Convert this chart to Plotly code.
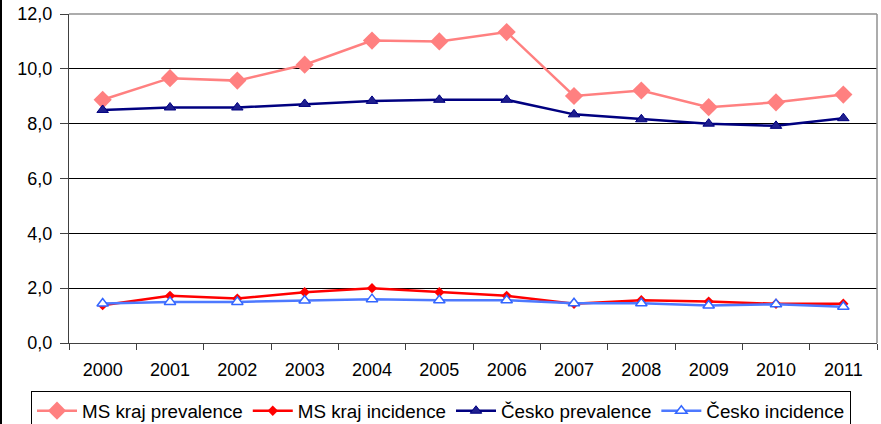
import plotly.graph_objects as go

years = ["2000", "2001", "2002", "2003", "2004", "2005", "2006", "2007", "2008", "2009", "2010", "2011"]
ms_prevalence = [8.87, 9.66, 9.57, 10.15, 11.03, 11.0, 11.34, 9.01, 9.21, 8.6, 8.78, 9.06]
ms_incidence = [1.38, 1.72, 1.62, 1.85, 2.0, 1.85, 1.72, 1.43, 1.56, 1.51, 1.43, 1.43]
cz_prevalence = [8.5, 8.59, 8.59, 8.72, 8.83, 8.87, 8.87, 8.34, 8.16, 8.0, 7.92, 8.2]
cz_incidence = [1.44, 1.5, 1.5, 1.55, 1.6, 1.56, 1.56, 1.45, 1.45, 1.37, 1.41, 1.32]

font = "Liberation Sans, Arial, sans-serif"

fig = go.Figure()
fig.add_trace(go.Scatter(x=years, y=ms_prevalence, name="MS kraj prevalence", mode="lines+markers",
                         line=dict(color="#FF8080", width=2.5),
                         marker=dict(symbol="diamond", size=14, color="#FF8080")))
fig.add_trace(go.Scatter(x=years, y=ms_incidence, name="MS kraj incidence", mode="lines+markers",
                         line=dict(color="#FF0000", width=2.5),
                         marker=dict(symbol="diamond", size=8, color="#FF0000")))
fig.add_trace(go.Scatter(x=years, y=cz_prevalence, name="Česko prevalence", mode="lines+markers",
                         line=dict(color="#000080", width=2.5),
                         marker=dict(symbol="triangle-up", size=10, color="#1F1F8F",
                                     line=dict(color="#000080", width=1))))
fig.add_trace(go.Scatter(x=years, y=cz_incidence, name="Česko incidence", mode="lines+markers",
                         line=dict(color="#4D79FF", width=2.5),
                         marker=dict(symbol="triangle-up", size=10, color="white",
                                     line=dict(color="#3366FF", width=1.5))))

fig.update_layout(
    width=881, height=424,
    margin=dict(l=69, r=4, t=14, b=81, autoexpand=False),
    paper_bgcolor="white", plot_bgcolor="white",
    separators=", ",
    font=dict(family=font, size=18, color="black"),
    showlegend=True,
    legend=dict(orientation="h", x=-38 / 808, xanchor="left", y=-48 / 329, yanchor="top",
                bordercolor="black", borderwidth=1, font=dict(size=18.8),
                tracegroupgap=0, itemwidth=40),
)
fig.update_xaxes(type="category", showgrid=False, showline=True, linecolor="#404040", linewidth=1,
                 ticks="outside", tickson="boundaries", ticklen=6, tickcolor="#404040",
                 ticklabelstandoff=10, range=[-0.5, 11.5], automargin=False)
fig.update_yaxes(range=[0, 12], dtick=2, tickformat=".1f", showgrid=True, gridcolor="black", gridwidth=1,
                 showline=True, linecolor="#404040", linewidth=1, ticks="outside", ticklen=8,
                 tickcolor="#404040", ticklabelstandoff=4, zeroline=False, automargin=False)

# gray plot-area border on top and right, black frame line on the far left
fig.add_shape(type="line", xref="paper", yref="paper", x0=0, x1=1, y0=1, y1=1,
              line=dict(color="#909090", width=1.5))
fig.add_shape(type="line", xref="paper", yref="paper", x0=1, x1=1, y0=0, y1=1,
              line=dict(color="#909090", width=1.5))
fig.add_shape(type="line", xref="paper", yref="paper", x0=-68 / 808, x1=-68 / 808, y0=-81 / 329, y1=1 + 14 / 329,
              line=dict(color="black", width=2))

# the page's default body margin would shift the chart by 8px
fig.write_html("out.html", config={"displayModeBar": False},
               post_script="document.body.style.margin = '0';")
